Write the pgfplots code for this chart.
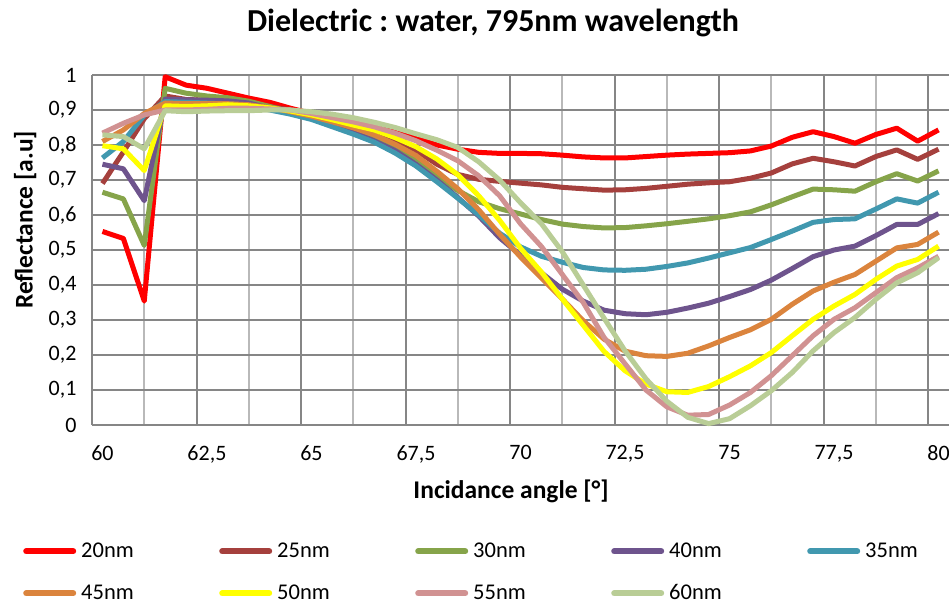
\documentclass[border=0pt]{standalone}
\usepackage{pgfplots}
\pgfplotsset{compat=1.18}
\usepackage{fontspec}
\setmainfont{Carlito}
\frenchspacing
\definecolor{cA}{RGB}{255,0,0}
\definecolor{cB}{RGB}{165,64,61}
\definecolor{cC}{RGB}{134,164,74}
\definecolor{cD}{RGB}{110,84,141}
\definecolor{cE}{RGB}{65,152,175}
\definecolor{cF}{RGB}{219,132,61}
\definecolor{cG}{RGB}{255,255,0}
\definecolor{cH}{RGB}{209,146,146}
\definecolor{cI}{RGB}{185,205,150}
\definecolor{gmaj}{RGB}{134,134,134}
\definecolor{gmin}{RGB}{185,185,185}
\begin{document}
\begin{tikzpicture}
\begin{axis}[
  at={(92pt,182pt)}, anchor=south west,
  width=857pt, height=350pt, scale only axis,
  xmin=59.75, xmax=80.25, ymin=0, ymax=1,
  clip=false,
  axis x line*=bottom, axis y line*=left,
  axis line style={draw=gmaj, line width=2pt},
  xtick={60,62.5,...,80}, ytick={0,0.1,...,1},
  major tick length=0pt, minor tick length=0pt,
  ymajorgrids,
  major grid style={draw=gmaj, line width=2pt},
  minor xtick={61,63.5,...,78.5}, xminorgrids,
  minor grid style={draw=gmin, line width=2pt},
  extra x ticks={59.75,62.25,...,79.75}, extra x tick labels={},
  extra x tick style={grid=major, major grid style={draw=gmaj, line width=2pt}},
  /pgf/number format/.cd, use comma, assume math mode=true,
  /pgfplots/.cd,
  tick label style={font=\fontsize{22}{26}\selectfont, text=black},
  xticklabel style={yshift=-17pt},
  yticklabel style={xshift=-12pt},
  title={Dielectric : water, 795nm wavelength},
  title style={at={(axis description cs:0.468,1.131)}, anchor=center, font=\bfseries\fontsize{32}{38}\selectfont},
  xlabel={Incidance angle [°]},
  xlabel style={at={(axis description cs:0.489,-0.191)}, anchor=center, font=\bfseries\fontsize{25.5}{30}\selectfont},
  ylabel={Reflectance [a.u]},
  ylabel style={at={(axis description cs:-0.078,0.586)}, anchor=center, font=\bfseries\fontsize{25.5}{30}\selectfont},
  every axis plot/.append style={line width=5pt, line join=round, no markers},
  legend columns=5,
  legend image code/.code={\draw[#1, line width=6pt, line cap=round] (0pt,6.5pt) -- (47pt,6.5pt);},
  legend style={at={(axis description cs:-0.0805,-0.336)}, anchor=north west, draw=none, fill=none, inner sep=0pt,
    font=\fontsize{22.5}{26}\selectfont, row sep=22pt,
    nodes={inner sep=0pt, text height=15pt, text depth=5pt, anchor=base west},
    /tikz/every odd column/.append style={column sep=5pt},
    /tikz/every even column/.append style={column sep=78pt}},
]
\addplot[cA] coordinates {(60,0.553)(60.5,0.533)(61,0.354)(61.5,0.995)(62,0.971)(62.5,0.962)(63,0.948)(63.5,0.934)(64,0.922)(64.5,0.905)(65,0.89)(65.5,0.878)(66,0.865)(66.5,0.852)(67,0.837)(67.5,0.82)(68,0.80)(68.5,0.788)(69,0.779)(69.5,0.776)(70,0.776)(70.5,0.775)(71,0.771)(71.5,0.766)(72,0.763)(72.5,0.763)(73,0.767)(73.5,0.771)(74,0.774)(74.5,0.776)(75,0.778)(75.5,0.783)(76,0.797)(76.5,0.822)(77,0.838)(77.5,0.824)(78,0.805)(78.5,0.83)(79,0.848)(79.5,0.811)(80,0.843)};
\addlegendentry{\makebox[60pt][l]{20nm}}
\addplot[cB] coordinates {(60,0.69)(60.5,0.78)(61,0.875)(61.5,0.94)(62,0.93)(62.5,0.928)(63,0.925)(63.5,0.918)(64,0.91)(64.5,0.9)(65,0.886)(65.5,0.872)(66,0.858)(66.5,0.84)(67,0.815)(67.5,0.785)(68,0.745)(68.5,0.716)(69,0.702)(69.5,0.696)(70,0.691)(70.5,0.686)(71,0.679)(71.5,0.675)(72,0.671)(72.5,0.672)(73,0.676)(73.5,0.682)(74,0.688)(74.5,0.692)(75,0.695)(75.5,0.705)(76,0.72)(76.5,0.746)(77,0.762)(77.5,0.752)(78,0.74)(78.5,0.767)(79,0.786)(79.5,0.759)(80,0.788)};
\addlegendentry{\makebox[60pt][l]{25nm}}
\addplot[cC] coordinates {(60,0.665)(60.5,0.646)(61,0.513)(61.5,0.962)(62,0.948)(62.5,0.94)(63,0.935)(63.5,0.925)(64,0.91)(64.5,0.895)(65,0.878)(65.5,0.86)(66,0.84)(66.5,0.818)(67,0.792)(67.5,0.76)(68,0.712)(68.5,0.67)(69,0.638)(69.5,0.618)(70,0.603)(70.5,0.587)(71,0.574)(71.5,0.567)(72,0.563)(72.5,0.564)(73,0.569)(73.5,0.575)(74,0.582)(74.5,0.589)(75,0.598)(75.5,0.609)(76,0.629)(76.5,0.652)(77,0.674)(77.5,0.672)(78,0.668)(78.5,0.695)(79,0.718)(79.5,0.697)(80,0.726)};
\addlegendentry{\makebox[60pt][l]{30nm}}
\addplot[cD] coordinates {(60,0.745)(60.5,0.732)(61,0.641)(61.5,0.931)(62,0.929)(62.5,0.928)(63,0.926)(63.5,0.92)(64,0.905)(64.5,0.893)(65,0.878)(65.5,0.858)(66,0.836)(66.5,0.812)(67,0.784)(67.5,0.745)(68,0.7)(68.5,0.65)(69,0.597)(69.5,0.535)(70,0.485)(70.5,0.435)(71,0.388)(71.5,0.354)(72,0.328)(72.5,0.318)(73,0.315)(73.5,0.322)(74,0.334)(74.5,0.348)(75,0.367)(75.5,0.387)(76,0.414)(76.5,0.447)(77,0.481)(77.5,0.5)(78,0.511)(78.5,0.541)(79,0.573)(79.5,0.573)(80,0.604)};
\addlegendentry{\makebox[60pt][l]{40nm}}
\addplot[cE] coordinates {(60,0.763)(60.5,0.81)(61,0.885)(61.5,0.924)(62,0.922)(62.5,0.92)(63,0.918)(63.5,0.912)(64,0.9)(64.5,0.888)(65,0.873)(65.5,0.852)(66,0.831)(66.5,0.808)(67,0.777)(67.5,0.74)(68,0.695)(68.5,0.648)(69,0.6)(69.5,0.548)(70,0.509)(70.5,0.482)(71,0.465)(71.5,0.45)(72,0.443)(72.5,0.442)(73,0.445)(73.5,0.453)(74,0.463)(74.5,0.477)(75,0.492)(75.5,0.507)(76,0.53)(76.5,0.554)(77,0.579)(77.5,0.587)(78,0.589)(78.5,0.617)(79,0.646)(79.5,0.634)(80,0.665)};
\addlegendentry{\makebox[60pt][l]{35nm}}
\addplot[cF] coordinates {(60,0.81)(60.5,0.843)(61,0.89)(61.5,0.92)(62,0.918)(62.5,0.918)(63,0.918)(63.5,0.915)(64,0.907)(64.5,0.895)(65,0.882)(65.5,0.866)(66,0.849)(66.5,0.829)(67,0.802)(67.5,0.77)(68,0.725)(68.5,0.675)(69,0.615)(69.5,0.545)(70,0.48)(70.5,0.42)(71,0.36)(71.5,0.298)(72,0.245)(72.5,0.211)(73,0.198)(73.5,0.196)(74,0.205)(74.5,0.226)(75,0.25)(75.5,0.272)(76,0.302)(76.5,0.345)(77,0.383)(77.5,0.408)(78,0.43)(78.5,0.468)(79,0.506)(79.5,0.516)(80,0.551)};
\addlegendentry{\makebox[60pt][l]{45nm}}
\addplot[cG] coordinates {(60,0.798)(60.5,0.789)(61,0.727)(61.5,0.912)(62,0.91)(62.5,0.912)(63,0.915)(63.5,0.912)(64,0.906)(64.5,0.897)(65,0.886)(65.5,0.872)(66,0.857)(66.5,0.843)(67,0.821)(67.5,0.795)(68,0.76)(68.5,0.715)(69,0.655)(69.5,0.585)(70,0.505)(70.5,0.437)(71,0.36)(71.5,0.285)(72,0.21)(72.5,0.155)(73,0.117)(73.5,0.095)(74,0.093)(74.5,0.11)(75,0.138)(75.5,0.169)(76,0.207)(76.5,0.255)(77,0.302)(77.5,0.34)(78,0.373)(78.5,0.416)(79,0.454)(79.5,0.473)(80,0.511)};
\addlegendentry{\makebox[60pt][l]{50nm}}
\addplot[cH] coordinates {(60,0.834)(60.5,0.862)(61,0.886)(61.5,0.9)(62,0.9)(62.5,0.902)(63,0.905)(63.5,0.905)(64,0.903)(64.5,0.9)(65,0.89)(65.5,0.878)(66,0.866)(66.5,0.852)(67,0.834)(67.5,0.812)(68,0.785)(68.5,0.755)(69,0.712)(69.5,0.655)(70,0.575)(70.5,0.51)(71,0.43)(71.5,0.35)(72,0.25)(72.5,0.175)(73,0.1)(73.5,0.052)(74,0.028)(74.5,0.03)(75,0.057)(75.5,0.093)(76,0.141)(76.5,0.198)(77,0.255)(77.5,0.302)(78,0.335)(78.5,0.378)(79,0.421)(79.5,0.449)(80,0.482)};
\addlegendentry{\makebox[60pt][l]{55nm}}
\addplot[cI] coordinates {(60,0.829)(60.5,0.824)(61,0.789)(61.5,0.898)(62,0.895)(62.5,0.897)(63,0.898)(63.5,0.898)(64,0.9)(64.5,0.9)(65,0.895)(65.5,0.888)(66,0.878)(66.5,0.865)(67,0.85)(67.5,0.832)(68,0.815)(68.5,0.793)(69,0.752)(69.5,0.7)(70,0.635)(70.5,0.575)(71,0.495)(71.5,0.4)(72,0.305)(72.5,0.212)(73,0.132)(73.5,0.068)(74,0.022)(74.5,0.004)(75,0.018)(75.5,0.055)(76,0.098)(76.5,0.15)(77,0.212)(77.5,0.264)(78,0.307)(78.5,0.359)(79,0.406)(79.5,0.435)(80,0.478)};
\addlegendentry{\makebox[60pt][l]{60nm}}
\end{axis}
\pgfresetboundingbox
\path (0pt,0pt) rectangle (949pt,607pt);
\end{tikzpicture}
\end{document}
